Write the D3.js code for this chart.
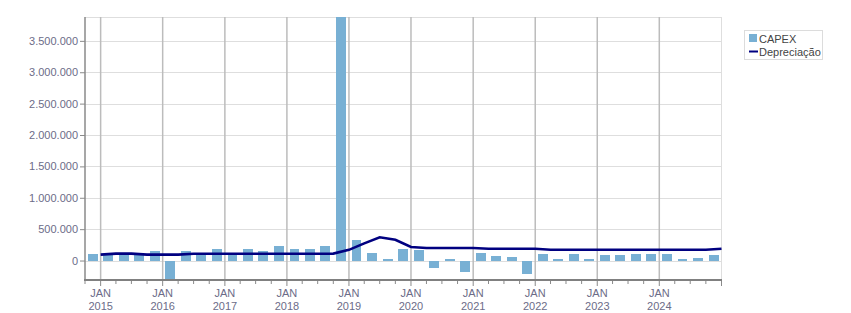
<!DOCTYPE html>
<html>
<head>
<meta charset="utf-8">
<script src="https://cdn.jsdelivr.net/npm/d3@7"></script>
<style>
  html, body { margin: 0; padding: 0; background: #fff; }
  svg { display: block; font-family: Tahoma, "Liberation Sans", Arial, sans-serif; }
</style>
</head>
<body>
<svg id="chart" width="851" height="313"></svg>
<script>
// ---- data ----
const startQuarter = "2015-01-01";           // first quarter (line point / bar end)
const capex = [112000, 112000, 96000, 85000, 149000, -310000, 149000, 85000, 191000, 96000,
               180000, 149000, 239000, 180000, 191000, 239000, 3880000, 324000, 128000, 32000,
               180000, 165000, -122000, 21000, -186000, 128000, 80000, 64000, -218000, 112000,
               21000, 112000, 21000, 96000, 96000, 112000, 112000, 112000, 21000, 48000, 96000];
const depreciacao = [95000, 110000, 110000, 95000, 95000, 95000, 108000, 108000, 108000, 108000,
                     108000, 108000, 108000, 108000, 108000, 110000, 170000, 273000, 370000, 330000,
                     215000, 200000, 200000, 200000, 200000, 188000, 188000, 188000, 188000, 172000,
                     172000, 172000, 172000, 172000, 172000, 172000, 172000, 172000, 172000, 172000, 188000];
const yTickValues = [0, 500000, 1000000, 1500000, 2000000, 2500000, 3000000, 3500000];
const seriesNames = ["CAPEX", "Depreciação"];
const monthLabel = "JAN";

// ---- layout ----
const W = 851, H = 313;
const plot = { left: 85, right: 721.5, top: 17, bottom: 280 };
const barColor = "#78b0d4", lineColor = "#000080", textColor = "#6c6c88";

const svg = d3.select("#chart");
const parse = d3.utcParse("%Y-%m-%d");
const d0 = parse(startQuarter);
const dates = capex.map((_, i) => d3.utcMonth.offset(d0, 3 * i));

const x = d3.scaleUtc()
  .domain([d3.utcMonth.offset(d0, -3), dates[dates.length - 1]])
  .range([plot.left, plot.right]);
const y = d3.scaleLinear()
  .domain(d3.extent(capex.concat(depreciacao)))
  .range([plot.bottom, plot.top]);

const loc = d3.formatLocale({ decimal: ",", thousands: ".", grouping: [3], currency: ["", ""] });
const fmt = loc.format(",d");

// horizontal gridlines
svg.append("g").selectAll("line").data(yTickValues).join("line")
  .attr("x1", plot.left).attr("x2", plot.right)
  .attr("y1", d => Math.round(y(d)) + 0.5).attr("y2", d => Math.round(y(d)) + 0.5)
  .attr("stroke", "#dedede").attr("stroke-width", 1);

// frame top/right
svg.append("line").attr("x1", plot.left).attr("x2", plot.right)
  .attr("y1", plot.top + 0.5).attr("y2", plot.top + 0.5).attr("stroke", "#dedede");
svg.append("line").attr("x1", plot.right).attr("x2", plot.right)
  .attr("y1", plot.top).attr("y2", plot.bottom).attr("stroke", "#dedede");

// vertical year gridlines
const years = d3.utcYear.range(d0, d3.utcDay.offset(dates[dates.length - 1], -1));
svg.append("g").selectAll("line").data(years).join("line")
  .attr("x1", d => x(d)).attr("x2", d => x(d))
  .attr("y1", plot.top).attr("y2", plot.bottom)
  .attr("stroke", "#bcbcbc").attr("stroke-width", 1.5);

// bars
svg.append("g").attr("shape-rendering", "crispEdges").selectAll("rect").data(capex).join("rect")
  .attr("x", (d, i) => {
    const a = x(d3.utcMonth.offset(dates[i], -3)), b = x(dates[i]);
    return a + (b - a) * 0.18;
  })
  .attr("width", (d, i) => {
    const a = x(d3.utcMonth.offset(dates[i], -3)), b = x(dates[i]);
    return (b - a) * 0.64;
  })
  .attr("y", d => y(Math.max(0, d)))
  .attr("height", d => Math.abs(y(d) - y(0)))
  .attr("fill", barColor);

// depreciation line
svg.append("path")
  .datum(depreciacao)
  .attr("fill", "none")
  .attr("stroke", lineColor)
  .attr("stroke-width", 2.6)
  .attr("d", d3.line().x((d, i) => x(dates[i])).y(d => y(d)));

// left axis
const yAxis = d3.axisLeft(y).tickValues(yTickValues).tickFormat(fmt).tickSize(5).tickPadding(2);
const gy = svg.append("g").attr("transform", `translate(${plot.left},0)`).call(yAxis);
gy.select(".domain").remove();
gy.selectAll(".tick line").attr("stroke", "#8a8a8a");
gy.selectAll(".tick text").attr("fill", textColor).attr("font-size", 11)
  .attr("font-family", 'Tahoma, "Liberation Sans", Arial, sans-serif');
svg.append("line").attr("x1", plot.left).attr("x2", plot.left)
  .attr("y1", plot.top).attr("y2", plot.bottom + 1).attr("stroke", "#8a8a8a").attr("stroke-width", 1.5);

// bottom axis
const quarterTicks = [d3.utcMonth.offset(d0, -3)].concat(dates);
svg.append("g").selectAll("line").data(quarterTicks).join("line")
  .attr("x1", d => x(d)).attr("x2", d => x(d))
  .attr("y1", plot.bottom).attr("y2", d => d.getUTCMonth() === 0 ? plot.bottom + 6 : plot.bottom + 4)
  .attr("stroke", "#8a8a8a").attr("stroke-width", 1);
svg.append("line").attr("x1", plot.left - 1).attr("x2", plot.right + 0.5)
  .attr("y1", plot.bottom).attr("y2", plot.bottom).attr("stroke", "#808080").attr("stroke-width", 2.2);

const yl = svg.append("g").selectAll("g").data(years).join("g")
  .attr("transform", d => `translate(${x(d)},0)`);
yl.append("text").attr("y", 297).attr("text-anchor", "middle")
  .attr("font-size", 11).attr("fill", textColor).text(monthLabel);
yl.append("text").attr("y", 310).attr("text-anchor", "middle")
  .attr("font-size", 11).attr("fill", textColor).text(d => d.getUTCFullYear());

// legend
const lg = svg.append("g");
lg.append("rect").attr("x", 744.5).attr("y", 30.5).attr("width", 78).attr("height", 29)
  .attr("fill", "#fff").attr("stroke", "#dcdcdc");
lg.append("rect").attr("x", 749).attr("y", 34).attr("width", 8).attr("height", 8).attr("fill", barColor);
lg.append("text").attr("x", 759).attr("y", 42.5).attr("font-size", 11).attr("fill", "#444").text(seriesNames[0]);
lg.append("line").attr("x1", 749).attr("x2", 758).attr("y1", 51.5).attr("y2", 51.5)
  .attr("stroke", lineColor).attr("stroke-width", 2);
lg.append("text").attr("x", 759).attr("y", 55.5).attr("font-size", 11).attr("fill", "#444").text(seriesNames[1]);
</script>
</body>
</html>
